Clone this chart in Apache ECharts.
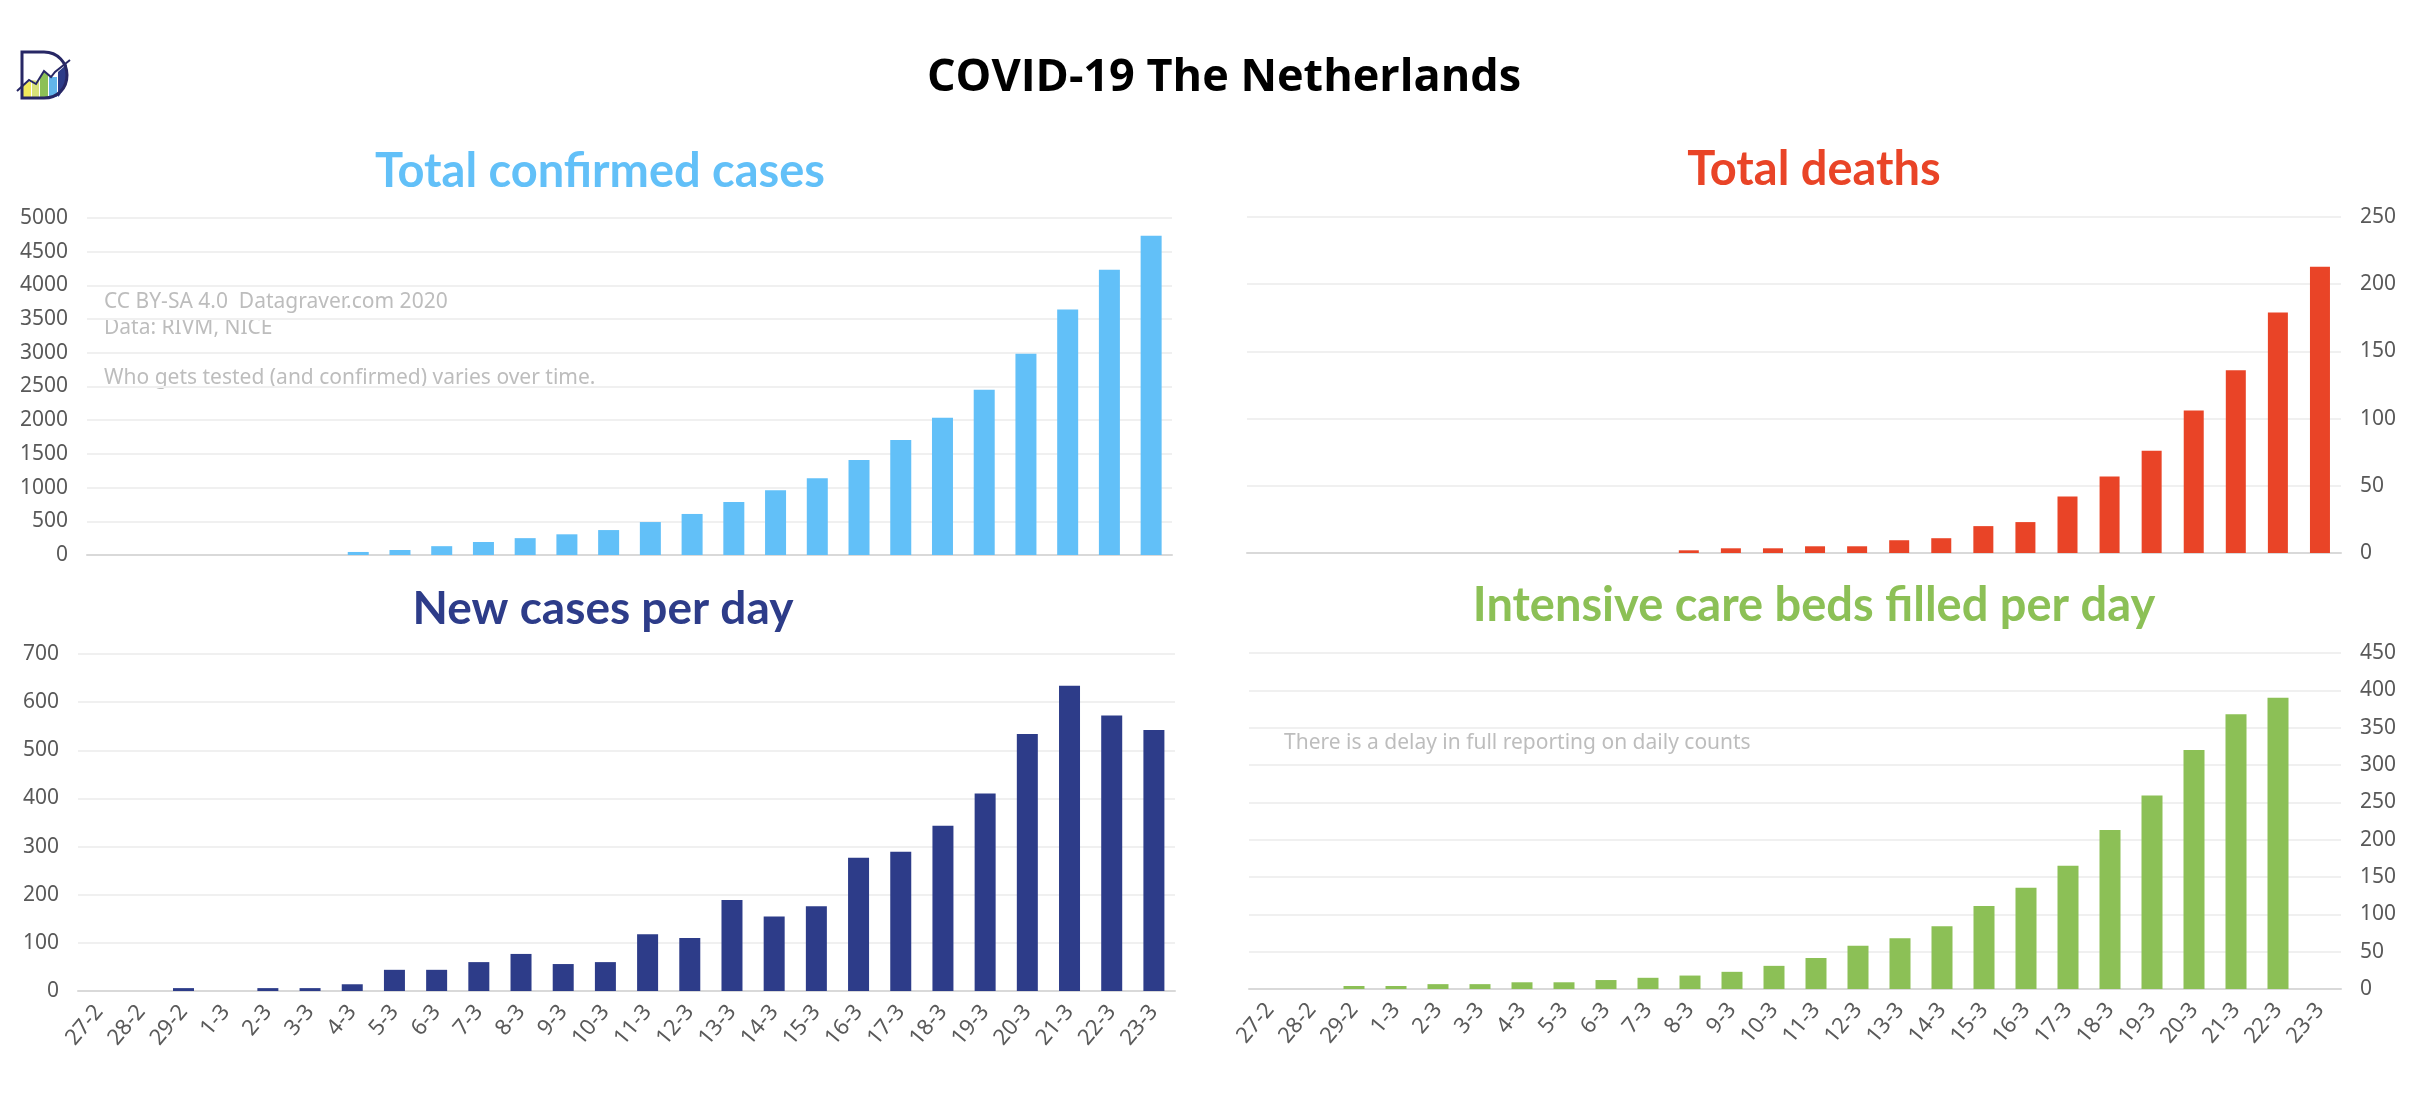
<!DOCTYPE html>
<html lang="en">
<head>
    <meta charset="UTF-8">
    <title>COVID-19 The Netherlands</title>
    <script src="https://cdn.jsdelivr.net/npm/echarts@6/dist/echarts.min.js"></script>
    <style>
        html, body { margin: 0; padding: 0; background: #fff; }
        #main { width: 2436px; height: 1110px; }
    </style>
</head>
<body>
<div id="main"></div>
<script>
// dates on the x axis, same for all four panels
var days = ['27-2', '28-2', '29-2', '1-3', '2-3', '3-3', '4-3', '5-3', '6-3', '7-3', '8-3', '9-3', '10-3',
    '11-3', '12-3', '13-3', '14-3', '15-3', '16-3', '17-3', '18-3', '19-3', '20-3', '21-3', '22-3', '23-3'];

// values
var totalCases = [0, 0, 0, 0, 0, 0, 45, 74, 131, 193, 250, 307, 370, 489, 609, 785, 961, 1138, 1411, 1706, 2036, 2452, 2986, 3641, 4233, 4738];
var totalDeaths = [0, 0, 0, 0, 0, 0, 0, 0, 0, 0, 2, 3.5, 3.5, 5, 5, 9.5, 11, 20, 23, 42, 57, 76, 106, 136, 179, 213];
var newCases = [0, 0, 6, 0, 6, 6, 14, 44, 44, 60, 77, 56, 60, 118, 110, 189, 155, 176, 277, 289, 343, 410, 534, 634, 572, 542];
var icuBeds = [0, 0, 4, 4, 6.5, 6.5, 9, 9, 12, 15, 18, 23, 31, 41.5, 58, 68, 84, 111, 135.5, 165, 213, 259, 320, 368, 390, 0];

var textFont = '"Noto Sans"';
var headFont = 'Lato';
var noteColor = '#bdbdbd';
var logoColor = '#272765';

var myChart = echarts.init(document.getElementById('main'));

// one panel = grid + x axis + y axis + bar series
var panels = [
    { data: totalCases, color: '#62c0f8', barWidth: 21, grid: { left: 87, top: 218, width: 1085, height: 337 }, max: 5000, step: 500, side: 'left', labels: false },
    { data: totalDeaths, color: '#e94427', barWidth: 20, grid: { left: 1247, top: 217, width: 1094, height: 336 }, max: 250, step: 50, side: 'right', labels: false },
    { data: newCases, color: '#2d3c89', barWidth: 21, grid: { left: 78, top: 654, width: 1097, height: 337 }, max: 700, step: 100, side: 'left', labels: true },
    { data: icuBeds, color: '#8cc056', barWidth: 21, grid: { left: 1249, top: 653, width: 1092, height: 336 }, max: 450, step: 50, side: 'right', labels: true }
];

var option = {
    backgroundColor: '#fff',
    animation: false,
    title: [
        { text: 'COVID-19 The Netherlands', left: 1224, top: 78, textAlign: 'center', textVerticalAlign: 'middle', padding: 0,
          textStyle: { fontFamily: '"Open Sans"', fontWeight: 'bold', fontSize: 45, color: '#000' } },
        { text: 'Total confirmed cases', left: 600, top: 172, textAlign: 'center', textVerticalAlign: 'middle', padding: 0,
          textStyle: { fontFamily: headFont, fontWeight: 'bold', fontSize: 47, color: '#62c0f8' } },
        { text: 'Total deaths', left: 1814, top: 170, textAlign: 'center', textVerticalAlign: 'middle', padding: 0,
          textStyle: { fontFamily: headFont, fontWeight: 'bold', fontSize: 47, color: '#e94427' } },
        { text: 'New cases per day', left: 603, top: 609, textAlign: 'center', textVerticalAlign: 'middle', padding: 0,
          textStyle: { fontFamily: headFont, fontWeight: 'bold', fontSize: 46, color: '#2d3c89' } },
        { text: 'Intensive care beds filled per day', left: 1814, top: 606, textAlign: 'center', textVerticalAlign: 'middle', padding: 0,
          textStyle: { fontFamily: headFont, fontWeight: 'bold', fontSize: 47, color: '#8cc056' } }
    ],
    grid: panels.map(function (p) { return p.grid; }),
    xAxis: panels.map(function (p, i) {
        return {
            type: 'category',
            gridIndex: i,
            data: days,
            axisTick: { show: false },
            axisLine: { lineStyle: { color: '#d9d9d9', width: 2 } },
            axisLabel: {
                show: p.labels,
                interval: 0,
                rotate: 50,
                margin: 17,
                fontFamily: textFont,
                fontSize: 22,
                color: '#595959'
            }
        };
    }),
    yAxis: panels.map(function (p, i) {
        return {
            type: 'value',
            gridIndex: i,
            position: p.side,
            min: 0,
            max: p.max,
            interval: p.step,
            axisLine: { show: false },
            axisTick: { show: false },
            splitLine: { lineStyle: { color: '#f0f0f0', width: 2 } },
            axisLabel: {
                margin: 19,
                // plain numbers, no thousands separator
                formatter: function (v) { return String(v); },
                fontFamily: textFont,
                fontSize: 21,
                color: '#595959'
            }
        };
    }),
    series: panels.map(function (p, i) {
        return {
            type: 'bar',
            xAxisIndex: i,
            yAxisIndex: i,
            data: p.data,
            barWidth: p.barWidth,
            itemStyle: { color: p.color }
        };
    }),
    graphic: [
        // notes inside the panels
        { type: 'text', x: 104, y: 302, style: { text: 'CC BY-SA 4.0  Datagraver.com 2020', fontFamily: textFont, fontSize: 21, fill: noteColor, verticalAlign: 'middle' } },
        { type: 'text', x: 104, y: 328, style: { text: 'Data: RIVM, NICE', fontFamily: textFont, fontSize: 21, fill: noteColor, verticalAlign: 'middle' } },
        { type: 'text', x: 104, y: 378, style: { text: 'Who gets tested (and confirmed) varies over time.', fontFamily: textFont, fontSize: 21, fill: noteColor, verticalAlign: 'middle' } },
        { type: 'text', x: 1284, y: 743, style: { text: 'There is a delay in full reporting on daily counts', fontFamily: textFont, fontSize: 21, fill: noteColor, verticalAlign: 'middle' } },
        // Datagraver logo
        { type: 'polygon', shape: { points: [[23, 97], [23, 84], [31, 81], [31, 97]] }, style: { fill: '#f2ea5c' } },
        { type: 'polygon', shape: { points: [[32, 97], [32, 80], [39, 81], [39, 97]] }, style: { fill: '#d8e27a' } },
        { type: 'polygon', shape: { points: [[40, 97], [40, 78], [44, 71], [48, 74], [48, 97]] }, style: { fill: '#8cc056' } },
        { type: 'polygon', shape: { points: [[49, 97], [49, 77], [57, 77], [57, 97]] }, style: { fill: '#62b5ea' } },
        { type: 'polygon', shape: { points: [[58, 97], [58, 72], [67, 64], [66, 82], [60, 95]] }, style: { fill: '#2d3c89' } },
        { type: 'polyline', shape: { points: [[44, 98], [22, 98], [22, 52], [44, 52]] }, style: { fill: 'none', stroke: logoColor, lineWidth: 3 } },
        { type: 'bezierCurve', shape: { x1: 44, y1: 52, cpx1: 58, cpy1: 52, cpx2: 67, cpy2: 63, x2: 67, y2: 75 }, style: { fill: 'none', stroke: logoColor, lineWidth: 3 } },
        { type: 'bezierCurve', shape: { x1: 67, y1: 75, cpx1: 67, cpy1: 88, cpx2: 58, cpy2: 98, x2: 44, y2: 98 }, style: { fill: 'none', stroke: logoColor, lineWidth: 3 } },
        { type: 'polyline', shape: { points: [[17, 91], [29, 80], [36, 84], [44, 71], [51, 77], [55, 72], [70, 60]] }, style: { fill: 'none', stroke: logoColor, lineWidth: 2 } }
    ]
};

myChart.setOption(option);
</script>
</body>
</html>
